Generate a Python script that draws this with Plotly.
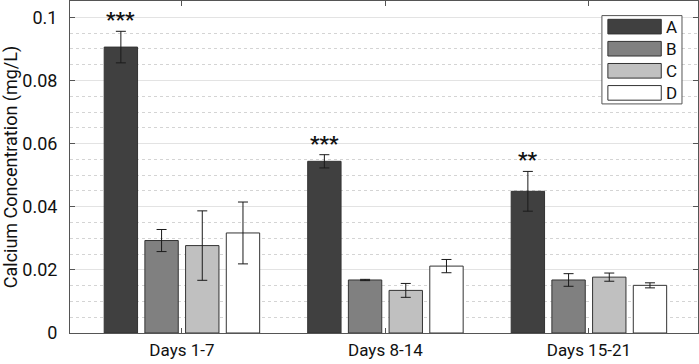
import plotly.graph_objects as go

categories = ["Days 1-7", "Days 8-14", "Days 15-21"]
series_names = ["A", "B", "C", "D"]
values = {
    "A": [0.0906, 0.0544, 0.0449],
    "B": [0.0293, 0.0168, 0.0168],
    "C": [0.0277, 0.0135, 0.0177],
    "D": [0.0317, 0.0212, 0.0151],
}
errors = {
    "A": [0.0050, 0.0021, 0.0063],
    "B": [0.0035, 0.0002, 0.0020],
    "C": [0.0110, 0.0022, 0.0013],
    "D": [0.0098, 0.0021, 0.0008],
}
significance_A = ["***", "***", "**"]
y_tick_values = [0, 0.02, 0.04, 0.06, 0.08, 0.1]
y_tick_labels = ["0", "0.02", "0.04", "0.06", "0.08", "0.1"]
colors = {"A": "#404040", "B": "#808080", "C": "#c0c0c0", "D": "#ffffff"}

FONT = "Roboto"
fig = go.Figure()
for name in series_names:
    fig.add_trace(go.Bar(
        name=name, x=categories, y=values[name],
        marker=dict(color=colors[name], line=dict(color="#333333", width=1)),
        error_y=dict(type="data", array=errors[name], color="#1a1a1a", thickness=1, width=5),
        showlegend=False,
    ))

# significance stars above group A bars
n_series = len(series_names)
group_w = 0.8
slot = group_w / n_series
for i, s in enumerate(significance_A):
    fig.add_annotation(
        x=i - group_w / 2 + slot / 2, y=values["A"][i] + errors["A"][i],
        text="<b>" + s + "</b>", showarrow=False, xref="x", yref="y",
        yanchor="bottom", yshift=-3,
        font=dict(family=FONT, size=21, color="#111111"),
    )

# custom legend (wide swatches, label to the right)
lx0, lx1, ly1, ly0 = 0.847, 0.9745, 0.956, 0.690
fig.add_shape(type="rect", xref="paper", yref="paper", x0=lx0, x1=lx1, y0=ly0, y1=ly1,
              line=dict(color="#555555", width=1), fillcolor="white", layer="above")
pitch = (ly1 - ly0) / n_series
for k, name in enumerate(series_names):
    yc = ly1 - pitch * (k + 0.5)
    fig.add_shape(type="rect", xref="paper", yref="paper",
                  x0=lx0 + 0.0095, x1=lx0 + 0.0945, y0=yc - 0.022, y1=yc + 0.022,
                  line=dict(color="#333333", width=1), fillcolor=colors[name], layer="above")
    fig.add_annotation(x=lx0 + 0.1115, y=yc, xref="paper", yref="paper", text=name,
                       showarrow=False, xanchor="center", yanchor="middle",
                       font=dict(family=FONT, size=17, color="#111111"))

fig.update_layout(
    width=699, height=364,
    margin=dict(l=70, r=1, t=1, b=31),
    paper_bgcolor="white", plot_bgcolor="white",
    barmode="group", bargap=0.2, bargroupgap=0.18,
    font=dict(family=FONT, size=16, color="#111111"),
)
fig.update_xaxes(
    type="category", range=[-0.55, 2.536], automargin=False,
    showline=True, linecolor="#555555", linewidth=1, mirror="ticks",
    ticks="inside", ticklen=5, tickcolor="#555555",
    showgrid=False, tickfont=dict(size=17), ticklabelstandoff=2,
)
fig.update_yaxes(
    range=[0, 0.1052], tickmode="array", tickvals=y_tick_values, ticktext=y_tick_labels,
    automargin=False,
    showline=True, linecolor="#555555", linewidth=1, mirror="ticks",
    ticks="inside", ticklen=5, tickcolor="#555555",
    showgrid=True, gridcolor="#e3e3e3", gridwidth=1,
    minor=dict(dtick=0.005, tick0=0, showgrid=True, gridcolor="#d4d4d4", griddash="dot", ticks=""),
    zeroline=False, tickfont=dict(size=18), ticklabelstandoff=8,
    title=dict(text="Calcium Concentration (mg/L)", font=dict(size=18), standoff=10),
)
fig.write_html("out.html", config={"displayModeBar": False},
               post_script="document.body.style.margin='0';")
